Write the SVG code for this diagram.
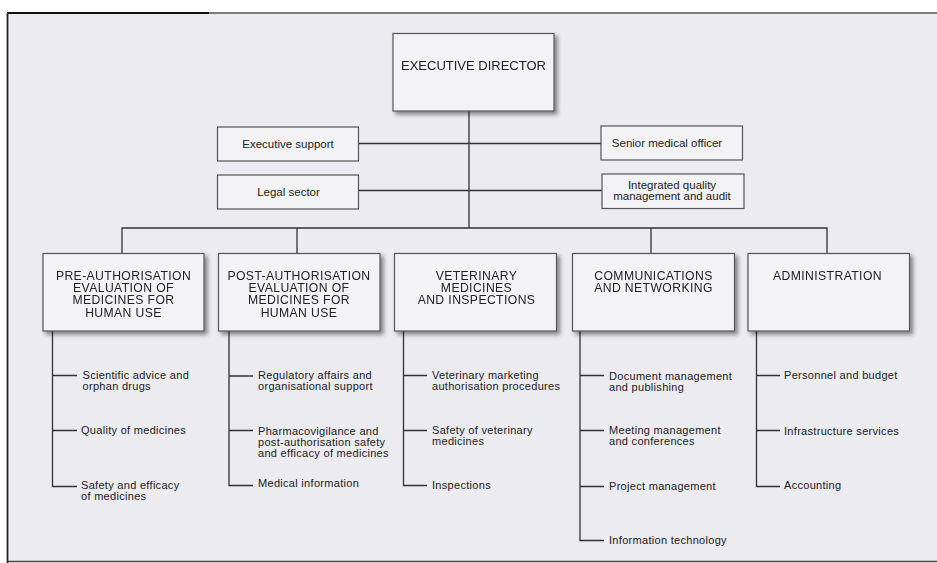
<svg xmlns="http://www.w3.org/2000/svg" width="937" height="563" viewBox="0 0 937 563">
<defs>
<filter id="sh" x="-10%" y="-10%" width="130%" height="130%">
<feGaussianBlur in="SourceAlpha" stdDeviation="2"/>
<feOffset dx="3" dy="3" result="b"/>
<feComponentTransfer><feFuncA type="linear" slope="0.45"/></feComponentTransfer>
<feMerge><feMergeNode/><feMergeNode in="SourceGraphic"/></feMerge>
</filter>
</defs>
<style>
.box{fill:#f3f3f6;stroke:#555;stroke-width:1.2}
.bx{filter:url(#sh)}
.ln{stroke:#333;stroke-width:1.3;fill:none}
.t{font-family:"Liberation Sans",Arial,sans-serif;fill:#222}
.h{font-size:12.2px;letter-spacing:0.4px;text-anchor:middle}
.s{font-size:11px;letter-spacing:0.3px}
.m{font-size:11.5px;text-anchor:middle}
.ed{font-size:13px;text-anchor:middle}
</style>
<rect x="0" y="0" width="937" height="563" fill="#ffffff"/>
<rect x="7" y="13" width="930" height="549" fill="#ebebf0"/>
<line x1="7" y1="13" x2="937" y2="13" stroke="#555" stroke-width="1.5"/>
<line x1="7" y1="13" x2="209" y2="13" stroke="#111" stroke-width="2"/>
<line x1="7.5" y1="13" x2="7.5" y2="563" stroke="#222" stroke-width="1.8"/>
<line x1="7" y1="561.5" x2="937" y2="561.5" stroke="#444" stroke-width="1.5"/>

<g id="connectors" class="ln">
<path d="M469 111V228"/>
<path d="M358.5 143.5H601"/>
<path d="M358.5 190.5H602"/>
<path d="M122 253V228H827V253"/>
<path d="M297 228V253"/>
<path d="M651 228V253"/>
<path d="M52.5 331V486.5H77M52.5 375.5H77M52.5 430.5H77"/>
<path d="M229 331V485.5H253M229 376H253M229 430.5H253"/>
<path d="M403.5 331V485.5H427M403.5 375.5H427M403.5 430.5H427"/>
<path d="M580 331V540.5H604M580 375.5H604M580 430.5H604M580 486.5H604"/>
<path d="M756.5 331V486.5H780M756.5 375.5H780M756.5 430.5H780"/>
</g>

<g id="executive-director" class="bx">
<rect class="box" x="393" y="33.5" width="161" height="77.5"/>
<text class="t ed" x="473.5" y="70">EXECUTIVE DIRECTOR</text>
</g>
<g id="executive-support">
<rect class="box" x="217.5" y="127" width="141" height="34"/>
<text class="t m" x="288" y="148">Executive support</text>
</g>
<g id="senior-medical-officer">
<rect class="box" x="601" y="126" width="141.5" height="34"/>
<text class="t m" x="667" y="147">Senior medical officer</text>
</g>
<g id="legal-sector">
<rect class="box" x="217.5" y="175" width="141" height="34"/>
<text class="t m" x="288.5" y="196">Legal sector</text>
</g>
<g id="integrated-quality">
<rect class="box" x="602" y="174" width="142" height="34.5"/>
<text class="t m" x="672" y="188.5">Integrated quality</text>
<text class="t m" x="672" y="199.5">management and audit</text>
</g>

<g id="pre-authorisation" class="bx">
<rect class="box" x="43" y="253.5" width="161" height="77.5"/>
<text class="t h" x="123.5" y="280">PRE-AUTHORISATION</text>
<text class="t h" x="123.5" y="292.2">EVALUATION OF</text>
<text class="t h" x="123.5" y="304.4">MEDICINES FOR</text>
<text class="t h" x="123.5" y="316.6">HUMAN USE</text>
</g>
<g id="post-authorisation" class="bx">
<rect class="box" x="218.5" y="253.5" width="161.5" height="77.5"/>
<text class="t h" x="299" y="280">POST-AUTHORISATION</text>
<text class="t h" x="299" y="292.2">EVALUATION OF</text>
<text class="t h" x="299" y="304.4">MEDICINES FOR</text>
<text class="t h" x="299" y="316.6">HUMAN USE</text>
</g>
<g id="veterinary" class="bx">
<rect class="box" x="394.5" y="253.5" width="162" height="77.5"/>
<text class="t h" x="476.5" y="280">VETERINARY</text>
<text class="t h" x="476.5" y="292.2">MEDICINES</text>
<text class="t h" x="476.5" y="304.4">AND INSPECTIONS</text>
</g>
<g id="communications" class="bx">
<rect class="box" x="572.5" y="253.5" width="162" height="77.5"/>
<text class="t h" x="653.5" y="280">COMMUNICATIONS</text>
<text class="t h" x="653.5" y="292.2">AND NETWORKING</text>
</g>
<g id="administration" class="bx">
<rect class="box" x="748" y="253.5" width="161.5" height="77.5"/>
<text class="t h" x="827.5" y="280">ADMINISTRATION</text>
</g>

<g id="pre-units">
<text class="t s" x="82.5" y="378.5">Scientific advice and</text>
<text class="t s" x="82.5" y="389.5">orphan drugs</text>
<text class="t s" x="81" y="433.5">Quality of medicines</text>
<text class="t s" x="81" y="488.5">Safety and efficacy</text>
<text class="t s" x="81" y="499.5">of medicines</text>
</g>
<g id="post-units">
<text class="t s" x="258" y="379">Regulatory affairs and</text>
<text class="t s" x="258" y="390">organisational support</text>
<text class="t s" x="258" y="434.5">Pharmacovigilance and</text>
<text class="t s" x="258" y="445.5">post-authorisation safety</text>
<text class="t s" x="258" y="456.5">and efficacy of medicines</text>
<text class="t s" x="258" y="486.5">Medical information</text>
</g>
<g id="vet-units">
<text class="t s" x="432" y="379">Veterinary marketing</text>
<text class="t s" x="432" y="390">authorisation procedures</text>
<text class="t s" x="432" y="434">Safety of veterinary</text>
<text class="t s" x="432" y="445">medicines</text>
<text class="t s" x="432" y="489">Inspections</text>
</g>
<g id="comm-units">
<text class="t s" x="609" y="380">Document management</text>
<text class="t s" x="609" y="391">and publishing</text>
<text class="t s" x="609" y="434">Meeting management</text>
<text class="t s" x="609" y="445">and conferences</text>
<text class="t s" x="609" y="490">Project management</text>
<text class="t s" x="609" y="544">Information technology</text>
</g>
<g id="admin-units">
<text class="t s" x="784" y="379">Personnel and budget</text>
<text class="t s" x="784" y="434.5">Infrastructure services</text>
<text class="t s" x="784" y="489">Accounting</text>
</g>
</svg>
